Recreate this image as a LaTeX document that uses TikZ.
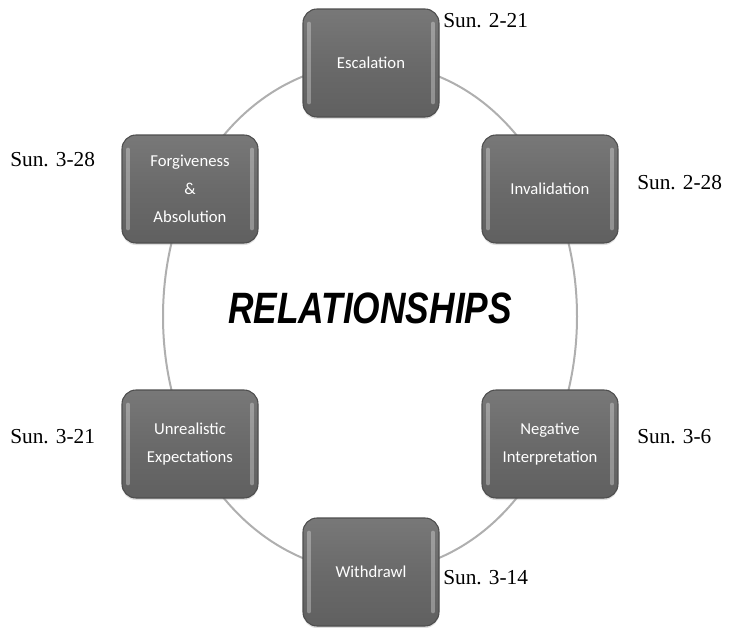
\documentclass[tikz,border=0pt]{standalone}
\usepackage{fontspec}
\usepackage{graphicx}
\setmainfont{Liberation Serif}
\newfontfamily\boxfont{Carlito}
\newfontfamily\titlefont{Liberation Sans}
\usetikzlibrary{calc,backgrounds,shadows}
\definecolor{ringgray}{RGB}{175,175,175}
\definecolor{boxtop}{RGB}{120,120,120}
\definecolor{boxmid}{RGB}{106,106,106}
\definecolor{boxbot}{RGB}{96,96,96}
\definecolor{boxedge}{RGB}{78,78,78}
\begin{document}
\begin{tikzpicture}[x=0.75pt,y=-0.75pt,
  stage/.style={draw=boxedge, line width=0.8pt, rounded corners=10.5pt,
    minimum width=102pt, minimum height=81pt,
    top color=boxtop, bottom color=boxbot, middle color=boxmid,
    text=white, align=center, font=\boxfont\fontsize{12.5}{21}\selectfont, inner sep=0pt,
    drop shadow={opacity=0.25,shadow xshift=0pt,shadow yshift=-1.5pt},
    path picture={
      \draw[white,opacity=0.3,line width=3pt,line cap=round]
        ([xshift=4.5pt,yshift=-11pt]path picture bounding box.north west) --
        ([xshift=4.5pt,yshift=11pt]path picture bounding box.south west);
      \draw[white,opacity=0.3,line width=3pt,line cap=round]
        ([xshift=-4.5pt,yshift=-11pt]path picture bounding box.north east) --
        ([xshift=-4.5pt,yshift=11pt]path picture bounding box.south east);
    }},
  ring/.style={draw=ringgray, line width=1.5pt},
  datelabel/.style={font=\fontsize{16}{19}\selectfont, inner sep=0pt, anchor=west}]
\useasboundingbox (0,0) rectangle (750,628);

\node[stage] (esc)  at (371,63)  {Escalation};
\node[stage] (inv)  at (550,189) {Invalidation};
\node[stage] (neg)  at (550,444) {Negative\\Interpretation};
\node[stage] (wd)   at (371,572) {Withdrawl};
\node[stage] (unr)  at (190,444) {Unrealistic\\Expectations};
\node[stage] (forg) at (190,189) {Forgiveness\\\&\\Absolution};

\node (title) at (370,308) {\titlefont\resizebox{213pt}{23pt}{\bfseries\itshape RELATIONSHIPS}};

\node[datelabel] (d1) at (443,21)  {Sun. 2-21};
\node[datelabel] (d2) at (637,183) {Sun. 2-28};
\node[datelabel] (d3) at (637,437) {Sun. 3-6};
\node[datelabel] (d4) at (443,578) {Sun. 3-14};
\node[datelabel] (d5) at (10,437)  {Sun. 3-21};
\node[datelabel] (d6) at (10,160)  {Sun. 3-28};

\begin{pgfonlayer}{background}
\draw[ring] (esc.center) .. controls ($(esc.center)+(74.5,0)$) and ($(inv.center)+(-36.8,-79.5)$) .. (inv.center);
\draw[ring] (inv.center) .. controls ($(inv.center)+(36.0,77.8)$) and ($(neg.center)+(36.0,-77.8)$) .. (neg.center);
\draw[ring] (neg.center) .. controls ($(neg.center)+(-36.8,79.5)$) and ($(wd.center)+(74.5,0)$) .. (wd.center);
\draw[ring] (wd.center) .. controls ($(wd.center)+(-74.5,0)$) and ($(unr.center)+(36.8,79.5)$) .. (unr.center);
\draw[ring] (unr.center) .. controls ($(unr.center)+(-36.0,-77.8)$) and ($(forg.center)+(-36.0,77.8)$) .. (forg.center);
\draw[ring] (forg.center) .. controls ($(forg.center)+(36.8,-79.5)$) and ($(esc.center)+(-74.5,0)$) .. (esc.center);
\end{pgfonlayer}
\end{tikzpicture}
\end{document}
